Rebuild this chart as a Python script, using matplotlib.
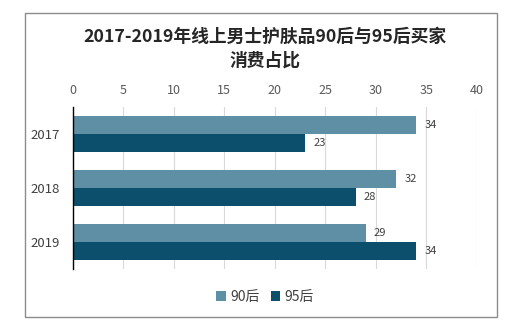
import matplotlib.pyplot as plt
import numpy as np
from matplotlib.patches import Rectangle

plt.rcParams["font.family"] = ["Noto Sans CJK SC", "DejaVu Sans"]

TITLE = "2017-2019年线上男士护肤品90后与95后买家\n消费占比"
YEARS = ["2017", "2018", "2019"]
SERIES = ["90后", "95后"]
VALUES_90 = [34, 32, 29]
VALUES_95 = [23, 28, 34]
COLORS = ["#5e8fa5", "#0b4f6c"]

fig = plt.figure(figsize=(5.3, 3.34), dpi=100)
W, H = 530, 334

# outer chart border
fig.patches.append(Rectangle((25 / W, 1 - 317 / H), 472 / W, 304 / H,
                             transform=fig.transFigure, fill=False,
                             edgecolor="#8c8c8c", linewidth=1.0))

ax = fig.add_axes([72.5 / W, 1 - 269 / H, (477 - 72.5) / W, (269 - 107) / H])

pos = np.arange(len(YEARS))
h = 0.33
b1 = ax.barh(pos - h / 2, VALUES_90, h, color=COLORS[0], label=SERIES[0])
b2 = ax.barh(pos + h / 2, VALUES_95, h, color=COLORS[1], label=SERIES[1])

for bars, vals in ((b1, VALUES_90), (b2, VALUES_95)):
    for bar, v in zip(bars, vals):
        ax.text(v + 0.8, bar.get_y() + bar.get_height() / 2, str(v),
                va="center", ha="left", fontsize=8, color="#404040")

ax.set_xlim(0, 40)
ax.set_ylim(2.5, -0.5)
ax.set_xticks(range(0, 41, 5))
ax.xaxis.tick_top()
ax.tick_params(axis="x", length=0, labelsize=9, labelcolor="#595959", pad=7)
ax.set_yticks(pos)
ax.set_yticklabels(YEARS)
ax.tick_params(axis="y", length=0, labelsize=9.5, labelcolor="#404040", pad=9)
ax.grid(axis="x", color="#d9d9d9", linewidth=0.8)
ax.set_axisbelow(True)
for s in ("top", "right", "bottom"):
    ax.spines[s].set_visible(False)
ax.spines["left"].set_color("#000000")
ax.spines["left"].set_linewidth(1.0)

fig.suptitle(TITLE, x=0.5, y=1 - 28 / H, fontsize=12.8, fontweight="bold",
             color="#262626", va="top", linespacing=1.4)

fig.legend(handles=[b1, b2], labels=SERIES, loc="center",
           bbox_to_anchor=(0.5, 1 - 297 / H), ncol=2, frameon=False,
           fontsize=10, handlelength=0.7, handleheight=0.7,
           handletextpad=0.3, columnspacing=0.8, labelcolor="#404040")

fig.savefig("out.png", dpi=100)
